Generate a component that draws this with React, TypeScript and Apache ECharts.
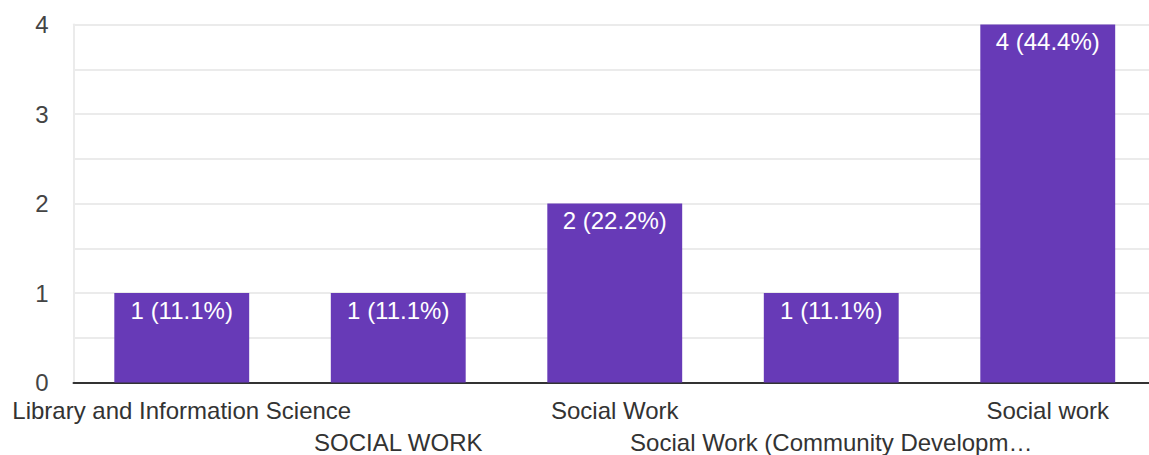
import React, { useEffect, useRef } from "react";
import * as echarts from "echarts";

const categories = [
  "Library and Information Science",
  "SOCIAL WORK",
  "Social Work",
  "Social Work (Community Developm…",
  "Social work",
];
const counts = [1, 1, 2, 1, 4];
const percents = ["11.1%", "11.1%", "22.2%", "11.1%", "44.4%"];
const yTicks = [0, 1, 2, 3, 4];

const FONT = "Arial, 'Liberation Sans', sans-serif";

export default function App() {
  const ref = useRef<HTMLDivElement>(null);
  useEffect(() => {
    if (!ref.current) return;
    const chart = echarts.init(ref.current, undefined, { renderer: "svg" });
    chart.setOption({
      animation: false,
      grid: {
        left: 73.5,
        top: 24.5,
        width: 1082.5,
        height: 358,
        containLabel: false,
        outerBoundsMode: "none",
      },
      xAxis: {
        type: "category",
        data: categories,
        axisLine: { show: true, lineStyle: { color: "#333333", width: 2 } },
        axisTick: { show: false },
        axisLabel: {
          interval: 0,
          margin: 12,
          color: "#333333",
          fontSize: 24,
          fontFamily: FONT,
          lineHeight: 32,
          formatter: (v: string, i: number) => (i % 2 === 1 ? "\n" + v : v),
        },
      },
      yAxis: {
        type: "value",
        min: 0,
        max: 4,
        interval: 0.5,
        axisLine: { show: true, lineStyle: { color: "#ebebeb", width: 2 } },
        axisTick: { show: false },
        splitLine: { show: true, lineStyle: { color: "#ebebeb", width: 2 } },
        axisLabel: {
          margin: 25,
          color: "#444444",
          fontSize: 24,
          fontFamily: FONT,
          formatter: (v: number) => (yTicks.includes(v) ? String(v) : ""),
        },
      },
      series: [
        {
          type: "bar",
          data: counts,
          barWidth: "62.3%",
          itemStyle: { color: "#673ab7" },
          label: {
            show: true,
            position: "insideTop",
            distance: 5,
            color: "#ffffff",
            fontSize: 24,
            fontFamily: FONT,
            formatter: (p: any) => `${counts[p.dataIndex]} (${percents[p.dataIndex]})`,
          },
        },
      ],
    });
    return () => chart.dispose();
  }, []);
  return (
    <div
      ref={ref}
      style={{ position: "absolute", left: 0, top: 0, width: 1149, height: 455, background: "#fff" }}
    />
  );
}
